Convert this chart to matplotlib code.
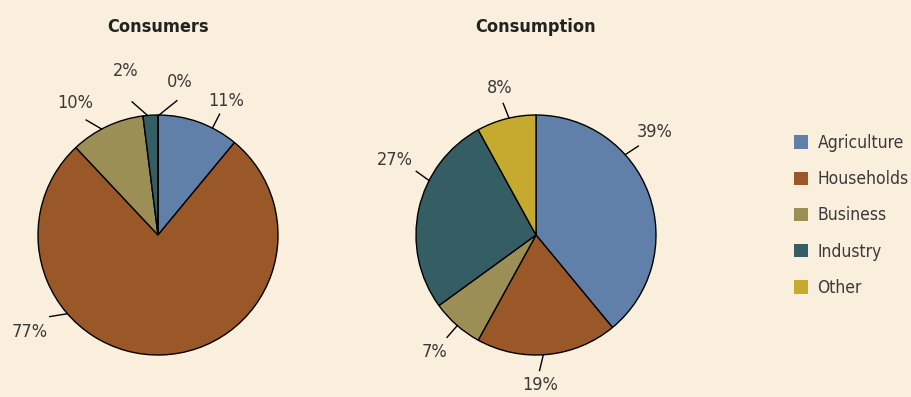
import numpy as np
import matplotlib
matplotlib.use('Agg')
import matplotlib.pyplot as plt
from matplotlib.patches import Patch

plt.rcParams['font.family'] = ['DejaVu Sans']
plt.rcParams['font.stretch'] = 'condensed'

# data
sectors = ["Agriculture", "Households", "Business", "Industry", "Other"]
colors = ["#6080a9", "#9a5727", "#9c8f56", "#345d64", "#c6aa2f"]
consumers = [11, 77, 10, 2, 0]
consumers_labels = ["11%", "77%", "10%", "2%", "0%"]
consumption = [39, 19, 7, 27, 8]
consumption_labels = ["39%", "19%", "7%", "27%", "8%"]

# label placement (angle of edge point, angle of text, radius of text)
consumers_lab_pos = [(63, 63, 1.25), (221, 217, 1.34), (118, 122, 1.30),
                     (95, 101, 1.39), (89.5, 82, 1.29)]
consumption_lab_pos = [(42, 41, 1.31), (-86.5, -88.5, 1.25), (229, 229, 1.29),
                       (153, 152, 1.33), (103, 104, 1.26)]

bg = "#faefdc"
txt = "#3a3a3a"

fig = plt.figure(figsize=(9.11, 3.97), dpi=100, facecolor=bg)
ax = fig.add_axes([0, 0, 1, 1])
ax.set_xlim(0, 911)
ax.set_ylim(0, 397)
ax.set_aspect('equal')
ax.axis('off')

R = 120


def draw_pie(values, labels, lab_pos, cx, cy, title):
    ax.pie(values, colors=colors, startangle=90, counterclock=False,
           center=(cx, cy), radius=R, frame=True,
           wedgeprops=dict(edgecolor='black', linewidth=1.0))
    for lab, (a_edge, a_txt, r_txt) in zip(labels, lab_pos):
        e = np.deg2rad(a_edge)
        t = np.deg2rad(a_txt)
        x0, y0 = cx + R * np.cos(e), cy + R * np.sin(e)
        x1, y1 = cx + R * 1.13 * np.cos(t), cy + R * 1.13 * np.sin(t)
        ax.plot([x0, x1], [y0, y1], color='black', lw=1.0)
        ax.text(cx + R * r_txt * np.cos(t), cy + R * r_txt * np.sin(t), lab,
                ha='center', va='center', fontsize=13, color=txt)
    ax.text(cx, 370, title, ha='center', va='center', fontsize=13,
            fontweight='bold', color='#222222')


draw_pie(consumers, consumers_labels, consumers_lab_pos, 158, 162, "Consumers")
draw_pie(consumption, consumption_labels, consumption_lab_pos, 536, 162, "Consumption")

ax.set_xlim(0, 911)
ax.set_ylim(0, 397)
ax.axis('off')

handles = [Patch(facecolor=c, edgecolor='none') for c in colors]
ax.legend(handles, sectors, loc='upper left', bbox_to_anchor=(794 / 911, 1 - 134 / 397),
          frameon=False, fontsize=12.5, handlelength=0.8, handleheight=0.8,
          handletextpad=0.55, labelspacing=1.05, labelcolor=txt, borderpad=0,
          borderaxespad=0)

fig.savefig("out.png", dpi=100, facecolor=bg)
